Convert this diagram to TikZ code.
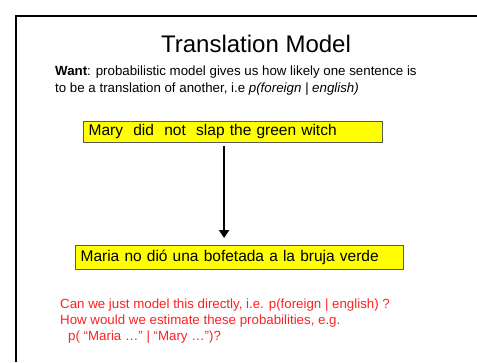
\documentclass[tikz,border=0pt]{standalone}
\usepackage{fontspec}
\setmainfont{Liberation Sans}
\usetikzlibrary{arrows.meta,positioning,calc}
\definecolor{slideyellow}{HTML}{FFFF00}
\definecolor{boxedge}{HTML}{5A5A5A}
\definecolor{question}{HTML}{FF2020}

\begin{document}
\begin{tikzpicture}[x=1pt, y=-1pt,
          sentence/.style={draw=boxedge, line width=1.2pt, fill=slideyellow, anchor=north west,
            inner xsep=5pt, inner ysep=0pt, text height=11pt, text depth=3.5pt, align=left,
            font=\fontsize{15.5}{18}\selectfont},
          plain/.style={inner sep=0pt, anchor=base west, align=left},
          arr/.style={-{Triangle[length=8pt, width=10pt]}, line width=2pt}]
        \useasboundingbox (0,0) rectangle (477,362);
        % slide frame
        \draw[line width=2.4pt] (16,362) -- (16,16) -- (477,16);
        \node[inner sep=0pt, anchor=base, font=\fontsize{24}{28}\selectfont] (title) at (256,52) {Translation Model};
        % base west of a two-line node sits on its last line
        \node[plain, font=\fontsize{13.3}{17.3}\selectfont] (want) at (55,92.5)
          {\textbf{Want}: probabilistic model gives us how likely one sentence is\\
           to be a translation of another, i.e \textit{p(foreign | english)}};
        \node[sentence, minimum width=299pt, minimum height=21pt, text width=289pt] (eng) at (83,121)
          {Mary\ \ did\ \ not\ \ slap the green witch};
        \node[sentence, minimum width=328pt, minimum height=24pt, text width=318pt] (frn) at (75,245)
          {Maria no dió una bofetada a la bruja verde};
        \coordinate (from) at ($(eng.south)+(-9,0)$);
        \draw[arr, shorten <=3pt, shorten >=7pt] (from) -- (from |- frn.north);
        \node[plain, text=question, font=\fontsize{13.3}{16}\selectfont] (ask) at (60,340)
          {Can we just model this directly, i.e. p(foreign | english) ?\\
           How would we estimate these probabilities, e.g.\\
           \hspace*{8pt}p( “Maria …” | “Mary …”)?};
      \end{tikzpicture}
\end{document}
